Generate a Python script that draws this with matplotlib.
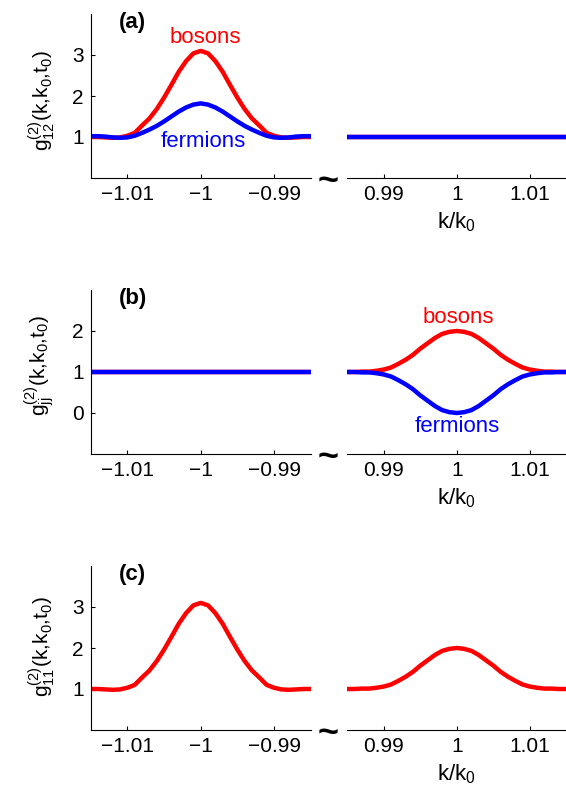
import matplotlib
matplotlib.use('Agg')
import matplotlib.pyplot as plt

plt.rcParams['font.family'] = ['Liberation Sans', 'DejaVu Sans']
plt.rcParams['mathtext.fontset'] = 'custom'
plt.rcParams['mathtext.rm'] = 'Liberation Sans'
plt.rcParams['mathtext.it'] = 'Liberation Sans'

# offsets from k0 (in units of k0)
dk = [-0.015, -0.014, -0.013, -0.012, -0.011, -0.010, -0.009, -0.008, -0.007, -0.006,
      -0.005, -0.004, -0.003, -0.002, -0.001, 0.0, 0.001, 0.002, 0.003, 0.004,
      0.005, 0.006, 0.007, 0.008, 0.009, 0.010, 0.011, 0.012, 0.013, 0.014, 0.015]
k_left = [-1 + d for d in dk]
k_right = [1 + d for d in dk]

# g2 profiles
boson_peak3 = [1.00, 1.00, 0.99, 0.98, 0.99, 1.03, 1.10, 1.28, 1.45, 1.68, 1.96,
               2.27, 2.59, 2.85, 3.04, 3.10, 3.04, 2.85, 2.59, 2.27, 1.96,
               1.68, 1.45, 1.28, 1.10, 1.03, 0.99, 0.98, 0.99, 1.00, 1.00]
fermion_peak = [1.02, 1.02, 1.01, 0.99, 0.98, 0.99, 1.03, 1.10, 1.18, 1.27, 1.38,
                1.50, 1.62, 1.72, 1.79, 1.82, 1.79, 1.72, 1.62, 1.50, 1.38,
                1.27, 1.18, 1.10, 1.03, 0.99, 0.98, 0.99, 1.01, 1.02, 1.02]
boson_peak2 = [1.00, 1.00, 1.01, 1.01, 1.03, 1.06, 1.11, 1.20, 1.30, 1.42, 1.57,
               1.70, 1.83, 1.93, 1.98, 2.00, 1.98, 1.93, 1.83, 1.70, 1.57,
               1.42, 1.30, 1.20, 1.11, 1.06, 1.03, 1.01, 1.01, 1.00, 1.00]
fermion_dip = [1.00, 1.00, 0.99, 0.99, 0.97, 0.94, 0.89, 0.80, 0.70, 0.58, 0.43,
               0.30, 0.17, 0.07, 0.02, 0.00, 0.02, 0.07, 0.17, 0.30, 0.43,
               0.58, 0.70, 0.80, 0.89, 0.94, 0.97, 0.99, 0.99, 1.00, 1.00]
flat_left = [-1.015, -0.985]
flat_right = [0.985, 1.015]
flat_g = [1.0, 1.0]

xticks_left = [-1.01, -1, -0.99]
xticklabels_left = ['\u22121.01', '\u22121', '\u22120.99']
xticks_right = [0.99, 1, 1.01]
xticklabels_right = ['0.99', '1', '1.01']

panels = ['(a)', '(b)', '(c)']
ylabels = [r'$\mathregular{g^{(2)}_{12}(k{,}k_0{,}t_0)}$',
           r'$\mathregular{g^{(2)}_{jj}(k{,}k_0{,}t_0)}$',
           r'$\mathregular{g^{(2)}_{11}(k{,}k_0{,}t_0)}$']
ylabel_y = [0.47, 0.54, 0.51]
ylims = [(0, 4), (-1, 3), (0, 4)]
yticks = [[1, 2, 3], [0, 1, 2], [1, 2, 3]]

W, H = 566, 791
fig = plt.figure(figsize=(W / 100, H / 100), dpi=100)

row_bottoms = [178, 454, 730]
ax_h = 164
red = (1, 0, 0)
blue = (0, 0, 1)
lw = 3.2
fs_tick = 15
fs_txt = 16

for i, yb in enumerate(row_bottoms):
    b = 1 - yb / H
    axL = fig.add_axes([90.7 / W, b, 220 / W, ax_h / H])
    axR = fig.add_axes([347.3 / W, b, 219 / W, ax_h / H])

    if i == 0:
        axL.plot(k_left, boson_peak3, color=red, lw=lw)
        axL.plot(k_left, fermion_peak, color=blue, lw=lw)
        axR.plot(flat_right, flat_g, color=red, lw=lw)
        axR.plot(flat_right, flat_g, color=blue, lw=lw)
        axL.text(-0.9994, 3.42, 'bosons', color=red, fontsize=fs_txt, ha='center', va='center')
        axL.text(-0.9997, 0.88, 'fermions', color=blue, fontsize=fs_txt, ha='center', va='center')
    elif i == 1:
        axL.plot(flat_left, flat_g, color=red, lw=lw)
        axL.plot(flat_left, flat_g, color=blue, lw=lw)
        axR.plot(k_right, boson_peak2, color=red, lw=lw)
        axR.plot(k_right, fermion_dip, color=blue, lw=lw)
        axR.text(1.0002, 2.32, 'bosons', color=red, fontsize=fs_txt, ha='center', va='center')
        axR.text(1.0000, -0.34, 'fermions', color=blue, fontsize=fs_txt, ha='center', va='center')
    else:
        axL.plot(k_left, boson_peak3, color=red, lw=lw)
        axR.plot(k_right, boson_peak2, color=red, lw=lw)

    for ax in (axL, axR):
        ax.set_ylim(*ylims[i])
        ax.spines['top'].set_visible(False)
        ax.spines['right'].set_visible(False)
        ax.spines['bottom'].set_linewidth(0.8)
        ax.tick_params(direction='in', length=3, width=0.8, labelsize=fs_tick, pad=5)
    axL.set_xlim(-1.015, -0.985)
    axR.set_xlim(0.985, 1.015)
    axL.spines['left'].set_linewidth(0.8)
    axR.spines['left'].set_visible(False)
    axR.set_yticks([])

    axL.set_xticks(xticks_left)
    axL.set_xticklabels(xticklabels_left)
    axR.set_xticks(xticks_right)
    axR.set_xticklabels(xticklabels_right)
    axL.set_yticks(yticks[i])
    axL.set_yticklabels([str(v) for v in yticks[i]])

    axL.set_ylabel(ylabels[i], fontsize=15)
    axL.yaxis.set_label_coords(-0.155, ylabel_y[i])
    axR.set_xlabel(r'$\mathregular{k/k_0}$', fontsize=fs_txt)
    axR.xaxis.set_label_coords(0.5, -0.2)

    axL.text(0.19, 0.95, panels[i], transform=axL.transAxes, fontsize=fs_txt,
             fontweight='bold', ha='center', va='center')

    # axis break marker
    fig.text(328 / W, 1 - (yb + 13) / H, '~', fontsize=26, fontweight='bold',
             ha='center', va='baseline')

fig.savefig('out.png', dpi=100)
